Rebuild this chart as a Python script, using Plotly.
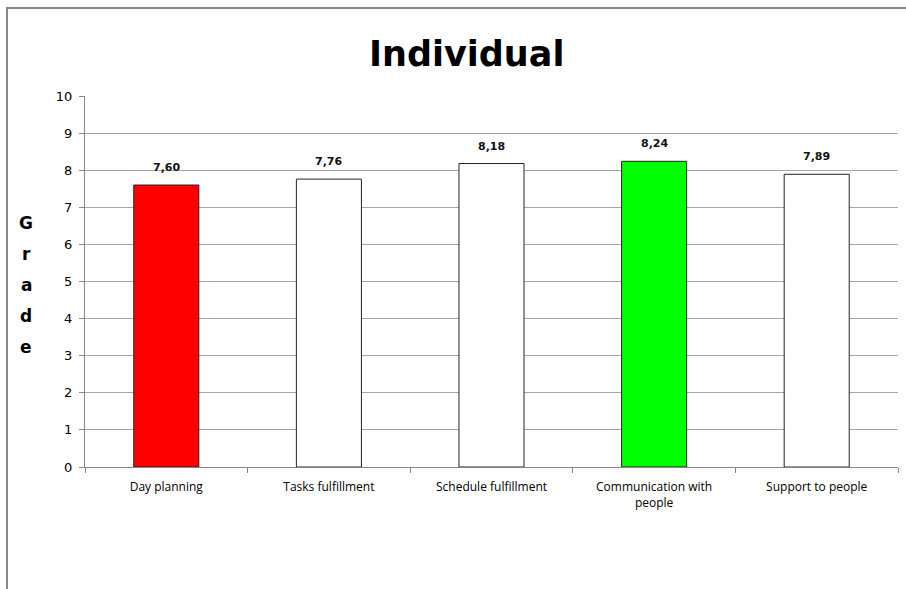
import plotly.graph_objects as go

categories = ["Day planning", "Tasks fulfillment", "Schedule fulfillment", "Communication with people", "Support to people"]
tick_labels = ["Day planning", "Tasks fulfillment", "Schedule fulfillment", "Communication with<br>people", "Support to people"]
values = [7.60, 7.76, 8.18, 8.24, 7.89]
value_labels = ["7,60", "7,76", "8,18", "8,24", "7,89"]
bar_colors = ["#FF0000", "#FFFFFF", "#FFFFFF", "#00FF00", "#FFFFFF"]
title_text = "Individual"
y_title = "Grade"
y_ticks = list(range(0, 11))

W, H = 906, 589
L, R, T, B = 85, 8, 96, 122
pw, ph = W - L - R, H - T - B

def px_x(x):
    return (x - L) / pw

def px_y(y):
    return (H - B - y) / ph

fig = go.Figure()
fig.add_trace(go.Bar(
    x=categories, y=values,
    marker=dict(color=bar_colors, line=dict(color="#222222", width=1)),
    width=0.4, hoverinfo="skip",
))

annotations = []
for c, v, t in zip(categories, values, value_labels):
    annotations.append(dict(x=c, y=v, text="<b>%s</b>" % t, showarrow=False, yanchor="bottom",
                            yshift=9, font=dict(family="DejaVu Sans", size=11, color="#111111"),
                            xref="x", yref="y"))
for i, ch in enumerate(y_title):
    annotations.append(dict(x=px_x(26), y=px_y(223 + i * 31), xref="paper", yref="paper",
                            xanchor="center", yanchor="middle",
                            text="<b>%s</b>" % ch, showarrow=False,
                            font=dict(family="DejaVu Sans", size=17, color="#000000")))
annotations.append(dict(x=px_x(466), y=px_y(54), xref="paper", yref="paper",
                        xanchor="center", yanchor="middle",
                        text="<b>%s</b>" % title_text, showarrow=False,
                        font=dict(family="DejaVu Sans", size=35, color="#000000")))

shapes = [
    dict(type="line", xref="paper", yref="paper", x0=px_x(6), x1=px_x(910), y0=px_y(8), y1=px_y(8),
         line=dict(color="#888888", width=2)),
    dict(type="line", xref="paper", yref="paper", x0=px_x(7), x1=px_x(7), y0=px_y(8), y1=px_y(600),
         line=dict(color="#888888", width=2)),
]

fig.update_layout(
    width=W, height=H,
    margin=dict(l=L, r=R, t=T, b=B, pad=0),
    paper_bgcolor="white", plot_bgcolor="white",
    showlegend=False,
    annotations=annotations,
    shapes=shapes,
    font=dict(family="DejaVu Sans", color="#000000"),
)
fig.update_xaxes(
    tickmode="array", tickvals=categories, ticktext=tick_labels,
    tickson="boundaries", ticks="outside", ticklen=5, tickcolor="#868686",
    showline=True, linecolor="#868686", linewidth=1,
    tickfont=dict(family="Open Sans", size=12, color="#000000"),
    showgrid=False, range=[-0.5, 4.5], ticklabelstandoff=9,
)
fig.update_yaxes(
    range=[0, 10], tickvals=y_ticks, ticks="outside", ticklen=5, tickcolor="#868686",
    showline=True, linecolor="#868686", linewidth=1,
    showgrid=True, gridcolor="#A6A6A6", gridwidth=1, zeroline=False,
    tickfont=dict(family="DejaVu Sans", size=13, color="#000000"),
    ticklabelstandoff=4,
)

fig.write_html("out.html", config={"displayModeBar": False},
               post_script="document.body.style.margin='0px';document.body.style.overflow='hidden';")
